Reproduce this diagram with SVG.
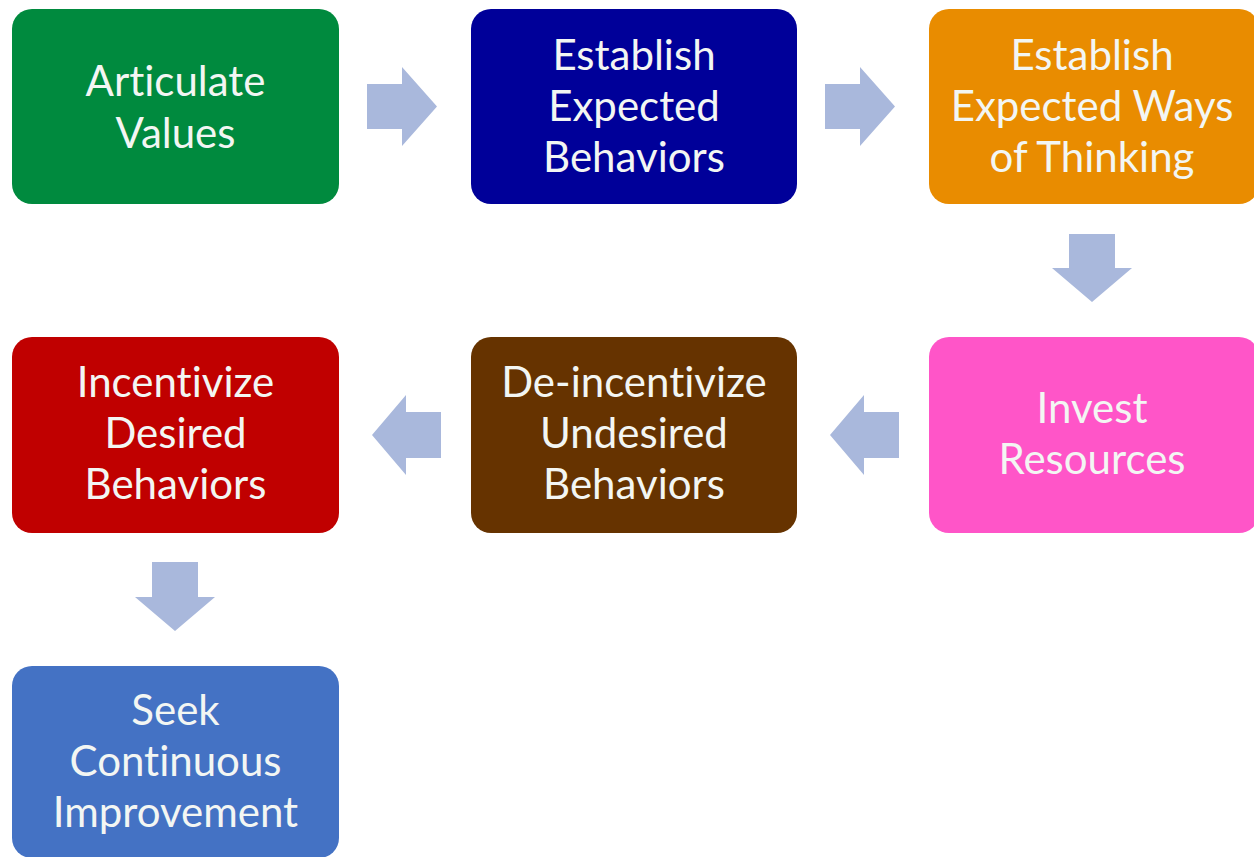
<svg xmlns="http://www.w3.org/2000/svg" width="1254" height="857" viewBox="0 0 1254 857">
<style>
.box{stroke:none}
.t{font-family:Lato,"Open Sans","Liberation Sans",sans-serif;font-size:42px;fill:#f3f6f3;text-anchor:middle;font-variant-ligatures:none}
.arr{fill:#a9b8dc}
</style>
<rect width="1254" height="857" fill="#ffffff"/>
<g id="connectors">
<path class="arr" d="M367,84 H402 V67 L437,106.5 L402,146 V129 H367 Z"/>
<path class="arr" d="M825,84 H860 V67 L895,106.5 L860,146 V129 H825 Z"/>
<path class="arr" d="M1069,234 V268 H1052 L1092,302 L1132,268 H1115 V234 Z"/>
<path class="arr" d="M899,412 H864 V395 L830,435 L864,475 V458 H899 Z"/>
<path class="arr" d="M441,412 H406 V395 L372,435 L406,475 V458 H441 Z"/>
<path class="arr" d="M152,562 V597 H135 L175,631 L215,597 H198 V562 Z"/>
</g>
<g id="n1">
<rect class="box" x="12" y="9" width="327" height="195" rx="20" fill="#008a3e"/>
<text class="t" x="175.5" y="96">Articulate</text>
<text class="t" x="175.5" y="148">Values</text>
</g>
<g id="n2">
<rect class="box" x="471" y="9" width="326" height="195" rx="20" fill="#000099"/>
<text class="t" x="634" y="70">Establish</text>
<text class="t" x="634" y="121">Expected</text>
<text class="t" x="634" y="172">Behaviors</text>
</g>
<g id="n3">
<rect class="box" x="929" y="9" width="330" height="195" rx="20" fill="#e98c00"/>
<text class="t" x="1092" y="70">Establish</text>
<text class="t" x="1092" y="121">Expected Ways</text>
<text class="t" x="1092" y="172">of Thinking</text>
</g>
<g id="n4">
<rect class="box" x="929" y="337" width="330" height="196" rx="20" fill="#ff55c8"/>
<text class="t" x="1092" y="423">Invest</text>
<text class="t" x="1092" y="474">Resources</text>
</g>
<g id="n5">
<rect class="box" x="471" y="337" width="326" height="196" rx="20" fill="#663300"/>
<text class="t" x="634" y="397">De-incentivize</text>
<text class="t" x="634" y="448">Undesired</text>
<text class="t" x="634" y="499">Behaviors</text>
</g>
<g id="n6">
<rect class="box" x="12" y="337" width="327" height="196" rx="20" fill="#c00000"/>
<text class="t" x="175.5" y="397">Incentivize</text>
<text class="t" x="175.5" y="448">Desired</text>
<text class="t" x="175.5" y="499">Behaviors</text>
</g>
<g id="n7">
<rect class="box" x="12" y="666" width="327" height="192" rx="20" fill="#4472c4"/>
<text class="t" x="175.5" y="725">Seek</text>
<text class="t" x="175.5" y="776">Continuous</text>
<text class="t" x="175.5" y="827">Improvement</text>
</g>
</svg>
